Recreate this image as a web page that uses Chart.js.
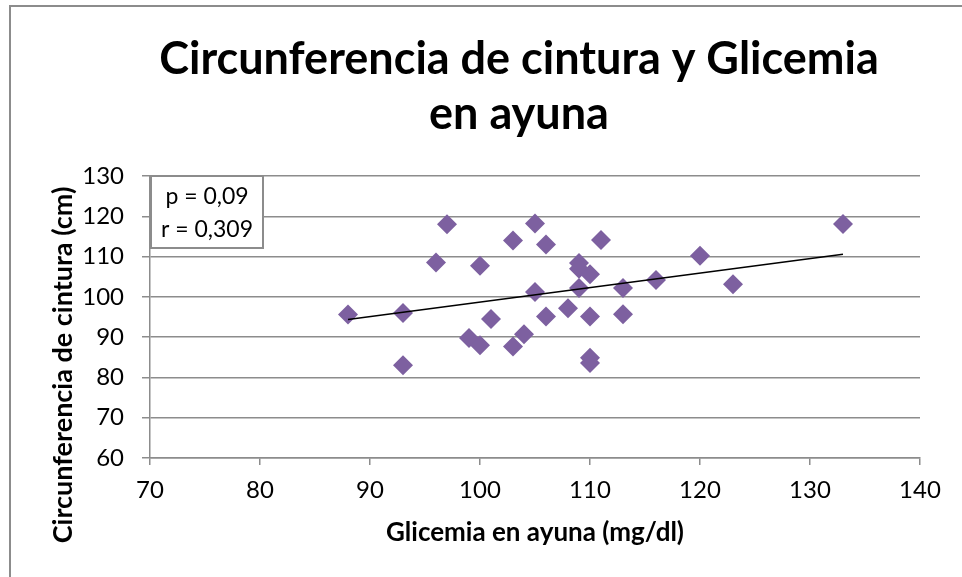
<!DOCTYPE html>
<html>
<head>
<meta charset="utf-8">
<script src="https://cdn.jsdelivr.net/npm/chart.js@4.4.1/dist/chart.umd.min.js"></script>
<style>
  html, body { margin: 0; padding: 0; background: #fff; }
  #wrap { position: relative; width: 962px; height: 577px; overflow: hidden; }
  #frame { position: absolute; left: 9px; top: 5px; width: 1000px; height: 700px;
           border-left: 2px solid #8c8c8c; border-top: 2px solid #8c8c8c; }
  canvas { position: absolute; left: 0; top: 0; }
</style>
</head>
<body>
<div id="wrap">
  <div id="frame"></div>
  <canvas id="chart" width="962" height="577"></canvas>
</div>
<script>
// ---- data ----
const glicemia = [88, 93, 93, 96, 97, 99, 100, 100, 101, 103, 103, 104, 105, 105, 106, 106,
                  108, 109, 109, 109, 110, 110, 110, 110, 111, 113, 113, 116, 120, 123, 133];
const cintura  = [95.6, 83, 96, 108.5, 118, 89.8, 107.7, 88, 94.5, 114, 87.7, 90.7, 118.2, 101.2, 113, 95.1,
                  97.2, 108.4, 107, 102.2, 105.6, 95.1, 84.9, 83.6, 114.1, 102.2, 95.7, 104.2, 110.2, 103.1, 118.1];

const xRange = [70, 140];
const yRange = [60, 130];
const tickStep = 10;

const titleLines = ['Circunferencia de cintura y Glicemia', 'en ayuna'];
const xTitle = 'Glicemia en ayuna (mg/dl)';
const yTitle = 'Circunferencia de cintura (cm)';
const statsLines = ['p = 0,09', 'r = 0,309'];

const purple = '#7D60A0';
const gridGrey = '#8c8c8c';
const FONT = 'Lato, "Open Sans", sans-serif';

// least squares trend line (as Excel draws it)
function linearFit(xs, ys) {
  const n = xs.length;
  const mx = xs.reduce((a, b) => a + b, 0) / n;
  const my = ys.reduce((a, b) => a + b, 0) / n;
  let sxy = 0, sxx = 0;
  for (let i = 0; i < n; i++) {
    sxy += (xs[i] - mx) * (ys[i] - my);
    sxx += (xs[i] - mx) * (xs[i] - mx);
  }
  const slope = sxy / sxx;
  return { slope, intercept: my - slope * mx };
}
const fit = linearFit(glicemia, cintura);
const xMin = Math.min(...glicemia), xMax = Math.max(...glicemia);
const trend = [xMin, xMax].map(x => ({ x, y: fit.intercept + fit.slope * x }));

const points = glicemia.map((x, i) => ({ x, y: cintura[i] }));

// titles and the p/r box, drawn straight on the canvas
const textPlugin = {
  id: 'texts',
  afterDraw(chart) {
    const ctx = chart.ctx;
    const area = chart.chartArea;
    ctx.save();
    ctx.fillStyle = '#000';
    ctx.textAlign = 'center';
    ctx.textBaseline = 'alphabetic';

    ctx.font = 'bold 45px ' + FONT;
    ctx.fillText(titleLines[0], 519, 74);
    ctx.fillText(titleLines[1], 519, 129);

    ctx.font = 'bold 26px ' + FONT;
    ctx.fillText(xTitle, 535, 541);

    ctx.font = 'bold 27px ' + FONT;
    ctx.save();
    ctx.translate(72, 365);
    ctx.rotate(-Math.PI / 2);
    ctx.fillText(yTitle, 0, 0);
    ctx.restore();

    // p / r box
    const bx = area.left + 1, by = area.top, bw = 112, bh = 72;
    ctx.fillStyle = '#fff';
    ctx.fillRect(bx, by, bw, bh);
    ctx.strokeStyle = gridGrey;
    ctx.lineWidth = 2;
    ctx.strokeRect(bx, by, bw, bh);
    ctx.fillStyle = '#000';
    ctx.font = '23px ' + FONT;
    ctx.fillText(statsLines[0], bx + bw / 2, by + 28);
    ctx.fillText(statsLines[1], bx + bw / 2, by + 61);
    ctx.restore();
  }
};

new Chart(document.getElementById('chart'), {
  type: 'scatter',
  data: {
    datasets: [
      {
        type: 'line',
        label: 'Tendencia',
        data: trend,
        borderColor: '#000',
        borderWidth: 1.5,
        pointRadius: 0,
        fill: false,
        order: 0
      },
      {
        label: 'Cintura',
        data: points,
        pointStyle: 'rectRot',
        pointRadius: 10,
        pointHoverRadius: 10,
        backgroundColor: purple,
        borderColor: purple,
        borderWidth: 0,
        order: 1
      }
    ]
  },
  options: {
    responsive: false,
    animation: false,
    devicePixelRatio: 1,
    layout: { padding: { top: 176, left: 0, right: 42, bottom: 0 } },
    plugins: {
      legend: { display: false },
      title: { display: false },
      tooltip: { enabled: false }
    },
    scales: {
      x: {
        type: 'linear',
        min: xRange[0],
        max: xRange[1],
        ticks: { stepSize: tickStep, color: '#000', font: { family: FONT, size: 24 }, padding: 11 },
        grid: { drawOnChartArea: false, drawTicks: true, tickLength: 7, color: gridGrey, lineWidth: 1.5 },
        border: { display: true, color: gridGrey, width: 1.5 },
        afterFit(scale) { scale.height = 119; }
      },
      y: {
        min: yRange[0],
        max: yRange[1],
        ticks: { stepSize: tickStep, color: '#000', font: { family: FONT, size: 24 }, padding: 18 },
        grid: { color: gridGrey, lineWidth: 1.5, tickLength: 8 },
        border: { display: true, color: gridGrey, width: 1.5 },
        afterFit(scale) { scale.width = 150; }
      }
    }
  },
  plugins: [textPlugin]
});
</script>
</body>
</html>
